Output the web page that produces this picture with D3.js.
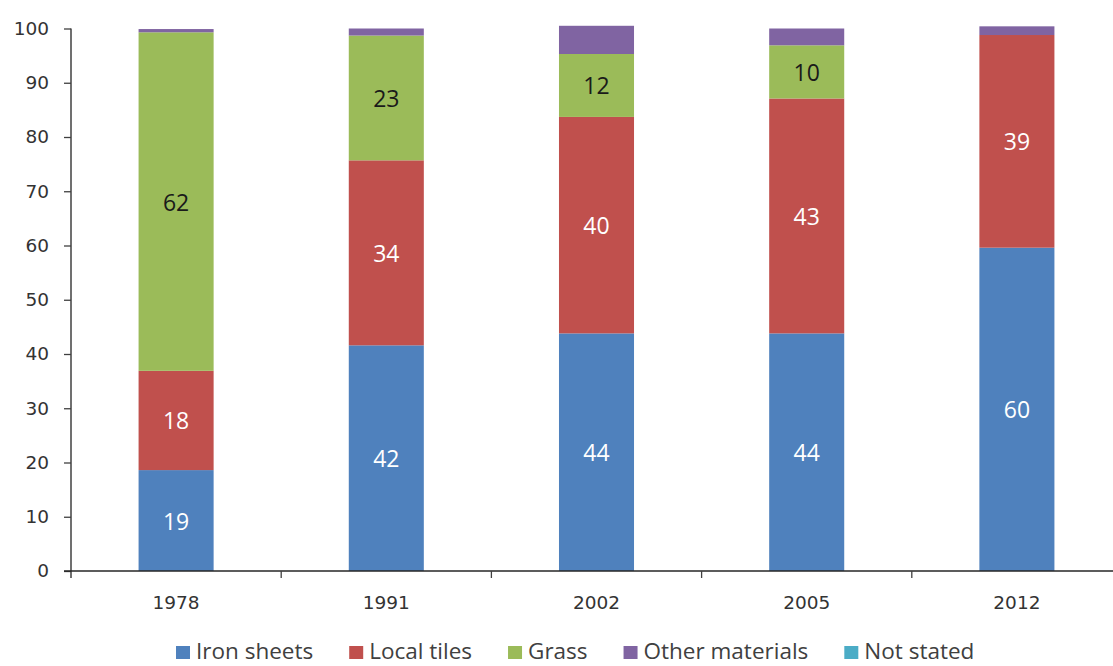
<!DOCTYPE html>
<html>
<head>
<meta charset="utf-8">
<script src="https://cdn.jsdelivr.net/npm/d3@7"></script>
<style>
  html, body { margin: 0; padding: 0; background: #ffffff; }
  svg { display: block; }
</style>
</head>
<body>
<svg id="chart" width="1113" height="666"></svg>
<script>
// ---- data ----
const years = ["1978", "1991", "2002", "2005", "2012"];
const seriesNames = ["Iron sheets", "Local tiles", "Grass", "Other materials", "Not stated"];
const ironSheets     = [18.6, 41.6, 43.8, 43.8, 59.6];
const localTiles     = [18.3, 34.1, 39.9, 43.3, 39.2];
const grass          = [62.4, 23.0, 11.6,  9.8,  0.0];
const otherMaterials = [ 0.6,  1.3,  5.2,  3.1,  1.6];
const notStated      = [ 0.0,  0.0,  0.0,  0.0,  0.0];
const yTicks = [0, 10, 20, 30, 40, 50, 60, 70, 80, 90, 100];
const labelledSeries = ["Iron sheets", "Local tiles", "Grass"];

// ---- styles ----
const colors = {
  "Iron sheets": "#4F81BD",
  "Local tiles": "#C0504D",
  "Grass": "#9BBB59",
  "Other materials": "#8064A2",
  "Not stated": "#4BACC6"
};
const labelColors = {
  "Iron sheets": "#ffffff",
  "Local tiles": "#ffffff",
  "Grass": "#1a1a1a"
};

const seriesValues = [ironSheets, localTiles, grass, otherMaterials, notStated];
const table = years.map((yr, i) => {
  const row = { year: yr };
  seriesNames.forEach((s, k) => { row[s] = seriesValues[k][i]; });
  return row;
});
const stacked = d3.stack().keys(seriesNames)(table);

const svg = d3.select("#chart");
const plotLeft = 71, plotRight = 1122, plotTop = 28.5, plotBottom = 571;

const x = d3.scaleBand().domain(years).range([plotLeft, plotRight])
  .paddingInner(0.643).paddingOuter(0.3215);
const xCat = d3.scaleBand().domain(years).range([plotLeft, plotRight]).padding(0);
const y = d3.scaleLinear().domain([0, 100]).range([plotBottom, plotTop]);

// bars
const layers = svg.append("g").selectAll("g").data(stacked).join("g")
  .attr("fill", d => colors[d.key]);
layers.selectAll("rect").data(d => d).join("rect")
  .attr("x", d => x(d.data.year))
  .attr("width", x.bandwidth())
  .attr("y", d => y(d[1]))
  .attr("height", d => Math.max(0, y(d[0]) - y(d[1])));

// data labels
const lbl = svg.append("g");
stacked.filter(s => labelledSeries.includes(s.key)).forEach(s => {
  lbl.selectAll(null).data(s.filter(d => d[1] - d[0] > 0)).join("text")
    .attr("x", d => x(d.data.year) + x.bandwidth() / 2)
    .attr("y", d => y((d[0] + d[1]) / 2))
    .attr("text-anchor", "middle")
    .attr("dominant-baseline", "central")
    .attr("font-family", "'Open Sans', sans-serif")
    .attr("font-size", 23)
    .attr("fill", labelColors[s.key])
    .text(d => Math.round(d[1] - d[0]));
});

// y axis
const yAxis = svg.append("g").attr("transform", `translate(${plotLeft},0)`)
  .call(d3.axisLeft(y).tickValues(yTicks).tickSize(7).tickPadding(15).tickSizeOuter(0));
yAxis.select(".domain").attr("stroke", "#404040").attr("stroke-width", 1.5)
  .attr("d", `M0,${plotTop}V${plotBottom + 7}`);
yAxis.selectAll(".tick line").attr("stroke", "#404040").attr("stroke-width", 1.3);
yAxis.selectAll(".tick text")
  .attr("font-family", "'DejaVu Sans', sans-serif")
  .attr("font-size", 18.5)
  .attr("fill", "#333333");

// x axis
const xAxis = svg.append("g").attr("transform", `translate(0,${plotBottom})`)
  .call(d3.axisBottom(x).tickSize(0).tickPadding(25).tickSizeOuter(0));
xAxis.select(".domain").attr("stroke", "#262626").attr("stroke-width", 1.5)
  .attr("d", `M${plotLeft - 7},0H${plotRight}`);
xAxis.selectAll(".tick text")
  .attr("font-family", "'DejaVu Sans', sans-serif")
  .attr("font-size", 18.5)
  .attr("fill", "#333333");
// category boundary ticks
svg.append("g").selectAll("line").data(years.slice(1)).join("line")
  .attr("x1", d => xCat(d)).attr("x2", d => xCat(d))
  .attr("y1", plotBottom).attr("y2", plotBottom + 7)
  .attr("stroke", "#404040").attr("stroke-width", 1.3);

// legend
const legend = svg.append("g");
let lx = 176;
const legendY = 659;
seriesNames.forEach(name => {
  legend.append("rect")
    .attr("x", lx).attr("y", legendY - 13)
    .attr("width", 14).attr("height", 13)
    .attr("fill", colors[name]);
  const t = legend.append("text")
    .attr("x", lx + 20).attr("y", legendY)
    .attr("font-family", "'Open Sans', sans-serif")
    .attr("font-size", 22.5)
    .attr("fill", "#404040")
    .text(name);
  lx = lx + 20 + t.node().getComputedTextLength() + 36;
});
</script>
</body>
</html>
